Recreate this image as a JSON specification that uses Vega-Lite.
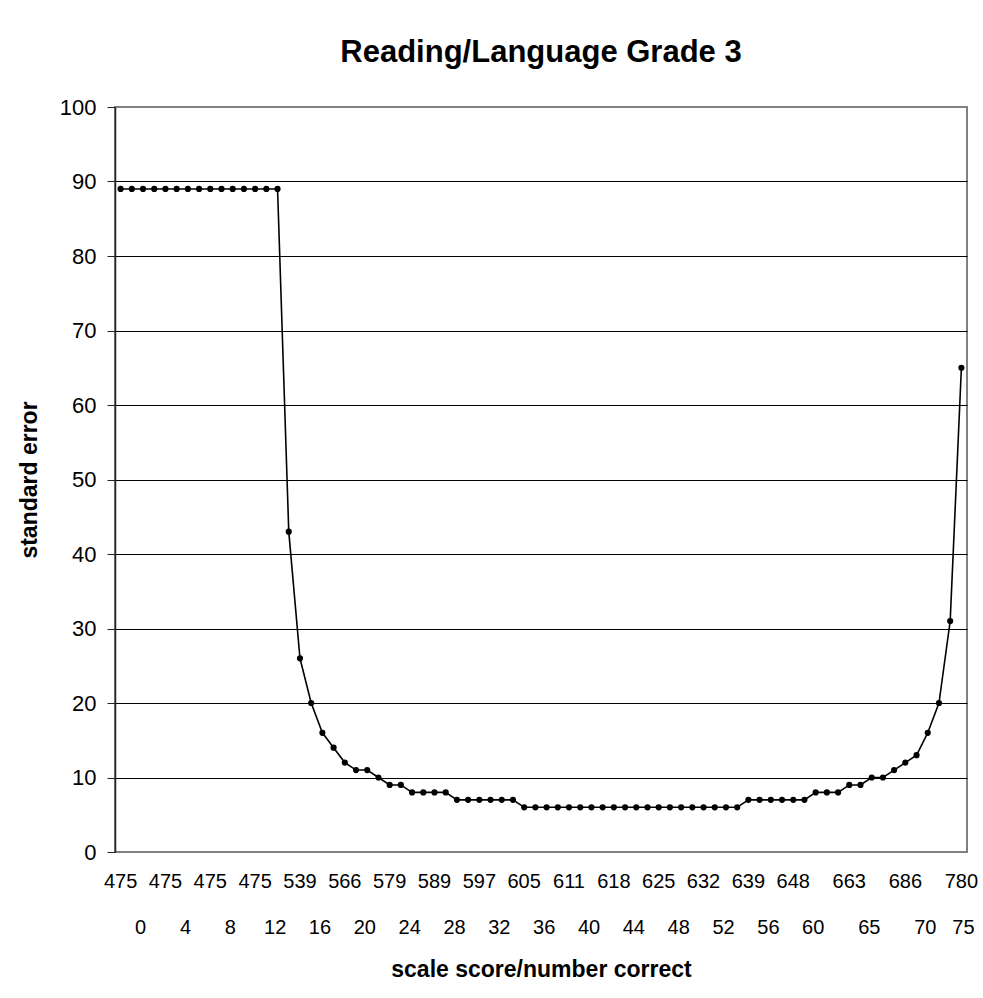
{
  "$schema": "https://vega.github.io/schema/vega-lite/v6.json",
  "width": 852,
  "height": 745,
  "autosize": {"type": "none"},
  "padding": {"left": 115, "top": 107, "right": 16, "bottom": 146},
  "background": "white",
  "title": {"text": "Reading/Language Grade 3", "fontSize": 31, "font": "Liberation Sans", "fontWeight": "bold", "anchor": "middle", "frame": "group", "offset": 27, "color": "black"},
  "config": {
    "font": "Liberation Sans",
    "view": {"stroke": "#808080", "strokeWidth": 2}
  },
  "datasets": {
    "series": [
      {"nc": 0, "se": 89}, {"nc": 1, "se": 89}, {"nc": 2, "se": 89}, {"nc": 3, "se": 89}, {"nc": 4, "se": 89},
      {"nc": 5, "se": 89}, {"nc": 6, "se": 89}, {"nc": 7, "se": 89}, {"nc": 8, "se": 89}, {"nc": 9, "se": 89},
      {"nc": 10, "se": 89}, {"nc": 11, "se": 89}, {"nc": 12, "se": 89}, {"nc": 13, "se": 89}, {"nc": 14, "se": 89},
      {"nc": 15, "se": 43}, {"nc": 16, "se": 26}, {"nc": 17, "se": 20}, {"nc": 18, "se": 16}, {"nc": 19, "se": 14},
      {"nc": 20, "se": 12}, {"nc": 21, "se": 11}, {"nc": 22, "se": 11}, {"nc": 23, "se": 10}, {"nc": 24, "se": 9},
      {"nc": 25, "se": 9}, {"nc": 26, "se": 8}, {"nc": 27, "se": 8}, {"nc": 28, "se": 8}, {"nc": 29, "se": 8},
      {"nc": 30, "se": 7}, {"nc": 31, "se": 7}, {"nc": 32, "se": 7}, {"nc": 33, "se": 7}, {"nc": 34, "se": 7},
      {"nc": 35, "se": 7}, {"nc": 36, "se": 6}, {"nc": 37, "se": 6}, {"nc": 38, "se": 6}, {"nc": 39, "se": 6},
      {"nc": 40, "se": 6}, {"nc": 41, "se": 6}, {"nc": 42, "se": 6}, {"nc": 43, "se": 6}, {"nc": 44, "se": 6},
      {"nc": 45, "se": 6}, {"nc": 46, "se": 6}, {"nc": 47, "se": 6}, {"nc": 48, "se": 6}, {"nc": 49, "se": 6},
      {"nc": 50, "se": 6}, {"nc": 51, "se": 6}, {"nc": 52, "se": 6}, {"nc": 53, "se": 6}, {"nc": 54, "se": 6},
      {"nc": 55, "se": 6}, {"nc": 56, "se": 7}, {"nc": 57, "se": 7}, {"nc": 58, "se": 7}, {"nc": 59, "se": 7},
      {"nc": 60, "se": 7}, {"nc": 61, "se": 7}, {"nc": 62, "se": 8}, {"nc": 63, "se": 8}, {"nc": 64, "se": 8},
      {"nc": 65, "se": 9}, {"nc": 66, "se": 9}, {"nc": 67, "se": 10}, {"nc": 68, "se": 10}, {"nc": 69, "se": 11},
      {"nc": 70, "se": 12}, {"nc": 71, "se": 13}, {"nc": 72, "se": 16}, {"nc": 73, "se": 20}, {"nc": 74, "se": 31},
      {"nc": 75, "se": 65}
    ],
    "ticks": [
      {"nc": 0, "ss": 475}, {"nc": 4, "ss": 475}, {"nc": 8, "ss": 475}, {"nc": 12, "ss": 475},
      {"nc": 16, "ss": 539}, {"nc": 20, "ss": 566}, {"nc": 24, "ss": 579}, {"nc": 28, "ss": 589},
      {"nc": 32, "ss": 597}, {"nc": 36, "ss": 605}, {"nc": 40, "ss": 611}, {"nc": 44, "ss": 618},
      {"nc": 48, "ss": 625}, {"nc": 52, "ss": 632}, {"nc": 56, "ss": 639}, {"nc": 60, "ss": 648},
      {"nc": 65, "ss": 663}, {"nc": 70, "ss": 686}, {"nc": 75, "ss": 780}
    ]
  },
  "layer": [
    {
      "data": {"name": "series"},
      "mark": {"type": "line", "color": "black", "strokeWidth": 1.6, "point": {"filled": true, "size": 38, "color": "black", "opacity": 1}},
      "encoding": {
        "x": {
          "field": "nc", "type": "quantitative",
          "scale": {"domain": [-0.5, 75.5], "nice": false, "zero": false},
          "axis": {"labels": false, "ticks": false, "domain": false, "grid": false, "title": "scale score/number correct", "titleFontSize": 23, "titleFontWeight": "bold", "titleColor": "black", "titlePadding": 106}
        },
        "y": {
          "field": "se", "type": "quantitative",
          "scale": {"domain": [0, 100], "nice": false},
          "axis": {
            "title": "standard error", "titleFontSize": 23, "titleFontWeight": "bold", "titleColor": "black", "titlePadding": 18,
            "values": [0, 10, 20, 30, 40, 50, 60, 70, 80, 90, 100],
            "grid": true, "gridColor": "black", "gridWidth": 1,
            "gridOpacity": {"condition": {"test": "datum.value == 0 || datum.value == 100", "value": 0}, "value": 1},
            "domainColor": "#222222", "domainWidth": 1.5,
            "tickColor": "#222222", "tickSize": 8, "tickWidth": 1,
            "labelFontSize": 22, "labelPadding": 11, "labelColor": "black"
          }
        }
      }
    },
    {
      "data": {"name": "ticks"},
      "mark": {"type": "text", "fontSize": 20, "baseline": "middle", "align": "center", "dy": 30, "color": "black"},
      "encoding": {
        "x": {"field": "nc", "type": "quantitative"},
        "y": {"datum": 0, "type": "quantitative"},
        "text": {"field": "ss", "type": "nominal"}
      }
    },
    {
      "data": {"name": "ticks"},
      "transform": [{"filter": "datum.nc < 75"}],
      "mark": {"type": "text", "fontSize": 20, "baseline": "middle", "align": "center", "dy": 76, "dx": 20, "color": "black"},
      "encoding": {
        "x": {"field": "nc", "type": "quantitative"},
        "y": {"datum": 0, "type": "quantitative"},
        "text": {"field": "nc", "type": "nominal"}
      }
    },
    {
      "data": {"name": "ticks"},
      "transform": [{"filter": "datum.nc == 75"}],
      "mark": {"type": "text", "fontSize": 20, "baseline": "middle", "align": "center", "dy": 76, "dx": 2, "color": "black"},
      "encoding": {
        "x": {"field": "nc", "type": "quantitative"},
        "y": {"datum": 0, "type": "quantitative"},
        "text": {"field": "nc", "type": "nominal"}
      }
    }
  ]
}
